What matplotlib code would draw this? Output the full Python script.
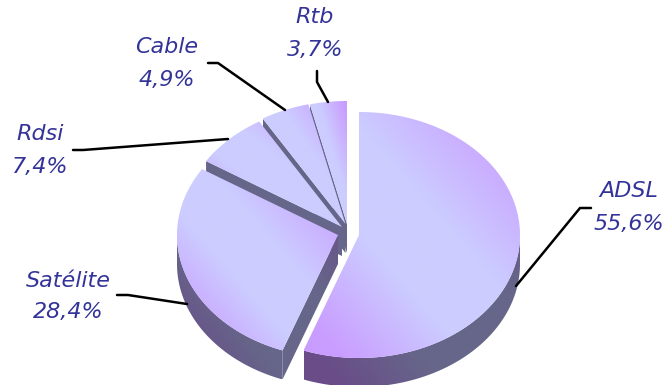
import numpy as np
import matplotlib

matplotlib.use('Agg')
import matplotlib.pyplot as plt
from matplotlib.colors import LinearSegmentedColormap
from matplotlib.patches import Polygon

# data, biggest slice first, clockwise from 12 o'clock
categories = ['ADSL', 'Satélite', 'Rdsi', 'Cable', 'Rtb']
values = [55.6, 28.4, 7.4, 4.9, 3.7]

# pie geometry in pixels
cx, cy = 359, 235
rx, ry = 161, 123
depth = 29
explode_dx = [0, -21, -17, -13.5, -12]
explode_dy = [0, 0, -8, -11, -11]

# label centre x, name y, value y, leader points
label_x = [629, 68, 40, 167, 315]
label_y = [191, 281, 134, 47, 17]
value_y = [224, 312, 167, 80, 50]
leaders = [
    [(516, 286), (580, 208), (591, 208)],
    [(187, 304), (128, 295), (117, 295)],
    [(228, 139), (83, 150), (73, 150)],
    [(285, 110), (218, 63), (208, 63)],
    [(328, 102), (317, 82), (317, 71)],
]

top_cmap = LinearSegmentedColormap.from_list(
    'top', [(0, '#c99cff'), (0.08, '#c99cff'), (0.38, '#ccccff'), (0.6, '#ccccff'), (0.95, '#c99cff'), (1, '#c99cff')])
wall_cmap = LinearSegmentedColormap.from_list(
    'wall', [(0, '#6a4c88'), (0.08, '#6a4c88'), (0.32, '#66668a'), (0.65, '#66668a'), (0.95, '#6a4c88'), (1, '#6a4c88')])


def fill_gradient(ax, pts, cmap, box):
    # axial gradient lower left to upper right over box, clipped to the polygon
    x0, y0, x1, y1 = box
    patch = Polygon(pts, closed=True, fc='none', ec='none', transform=ax.transData)
    ax.add_patch(patch)
    gx, gy = np.meshgrid(np.linspace(0, 1, 150), np.linspace(0, 1, 150))
    grad = (gx + 1 - gy) / 2
    im = ax.imshow(grad, cmap=cmap, vmin=0, vmax=1, extent=(x0, x1, y0, y1),
                   origin='lower', aspect='auto', interpolation='bilinear')
    im.set_clip_path(patch)


fig = plt.figure(figsize=(6.64, 3.85), dpi=100)
ax = fig.add_axes([0, 0, 1, 1])

fractions = np.array(values) / sum(values)
ends = 90 - 360 * np.cumsum(fractions)
starts = np.concatenate(([90], ends[:-1]))

# back slices first so the front ones paint over them
for i in range(len(values) - 1, -1, -1):
    ax0, ay0 = cx + explode_dx[i], cy + explode_dy[i]
    a = np.radians(np.linspace(starts[i], ends[i], 200))
    arc = np.column_stack((ax0 + rx * np.cos(a), ay0 - ry * np.sin(a)))
    top = np.vstack(([ax0, ay0], arc))
    top_box = (top[:, 0].min(), top[:, 1].min(), top[:, 0].max(), top[:, 1].max())
    wall_box = (top_box[0], top_box[1], top_box[2], top_box[3] + depth)

    # outer wall, only the part of the rim facing the viewer
    front = arc[np.sin(a) < 0]
    if len(front) > 1:
        rim = np.vstack((front, (front + [0, depth])[::-1]))
        fill_gradient(ax, rim, wall_cmap, wall_box)

    # radial wall on the counter-clockwise edge, ADSL has it facing away
    if i > 0:
        edge = arc[0]
        wall = np.array([[ax0, ay0], edge, edge + [0, depth], [ax0, ay0 + depth]])
        fill_gradient(ax, wall, wall_cmap, wall_box)

    fill_gradient(ax, top, top_cmap, top_box)

for i, name in enumerate(categories):
    xs, ys = zip(*leaders[i])
    ax.plot(xs, ys, color='black', lw=1.8, solid_capstyle='round', solid_joinstyle='round')
    label = f'{values[i]:.1f}'.replace('.', ',') + '%'
    ax.text(label_x[i], label_y[i], name, color='#333399', style='italic',
            fontsize=16, ha='center', va='center', family='DejaVu Sans')
    ax.text(label_x[i], value_y[i], label, color='#333399', style='italic',
            fontsize=16, ha='center', va='center', family='DejaVu Sans')

ax.set_xlim(0, 664)
ax.set_ylim(385, 0)
ax.axis('off')
fig.savefig('out.png', dpi=100)
